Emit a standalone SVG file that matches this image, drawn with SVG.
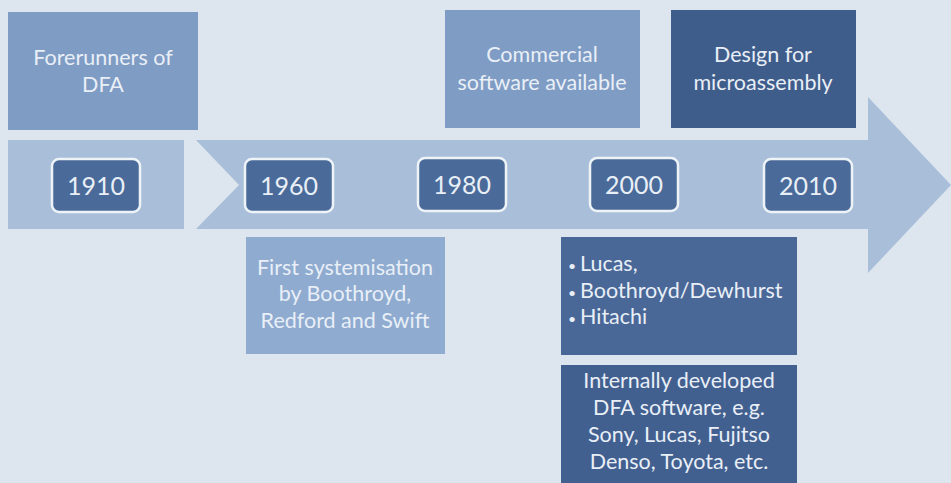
<svg xmlns="http://www.w3.org/2000/svg" width="951" height="483" viewBox="0 0 951 483">
<style>
.t{font-family:Lato,"Open Sans","Liberation Sans",sans-serif;fill:#e9eff7;font-size:21.5px}
.c{text-anchor:middle}
.y{font-size:25px}
.b{font-size:14px}
.yr{fill:#4a6a99;stroke:#eef3f8;stroke-width:2.5}
</style>
<rect width="951" height="483" fill="#dde6ef"/>
<g id="timeline">
<rect x="8" y="140" width="176" height="89" fill="#a9bfd9"/>
<polygon points="196,140 868,140 868,97 951,185 868,273 868,229 196,229 239,185" fill="#a9bfd9"/>
</g>
<g id="forerunners">
<rect x="8" y="12" width="190" height="118" fill="#7f9cc4"/>
<text class="t c" x="103" y="65">Forerunners of</text>
<text class="t c" x="103" y="92">DFA</text>
</g>
<g id="commercial">
<rect x="445" y="10" width="195" height="118" fill="#7f9cc4"/>
<text class="t c" x="542" y="62">Commercial</text>
<text class="t c" x="542" y="90">software available</text>
</g>
<g id="micro">
<rect x="671" y="10" width="185" height="118" fill="#3f5d8b"/>
<text class="t c" x="763" y="62">Design for</text>
<text class="t c" x="763" y="90">microassembly</text>
</g>
<g id="y1910"><rect class="yr" x="52" y="159" width="88" height="53" rx="7"/><text class="t c y" x="96" y="195">1910</text></g>
<g id="y1960"><rect class="yr" x="245" y="159" width="88" height="53" rx="7"/><text class="t c y" x="289" y="195">1960</text></g>
<g id="y1980"><rect class="yr" x="418" y="158" width="88" height="53" rx="7"/><text class="t c y" x="462" y="194">1980</text></g>
<g id="y2000"><rect class="yr" x="590" y="158" width="88" height="53" rx="7"/><text class="t c y" x="634" y="194">2000</text></g>
<g id="y2010"><rect class="yr" x="764" y="159" width="88" height="53" rx="7"/><text class="t c y" x="808" y="195">2010</text></g>
<g id="first">
<rect x="246" y="237" width="199" height="117" fill="#8fabd0"/>
<text class="t c" x="345" y="275">First systemisation</text>
<text class="t c" x="345" y="301">by Boothroyd,</text>
<text class="t c" x="345" y="328">Redford and Swift</text>
</g>
<g id="lucas">
<rect x="561" y="237" width="236" height="118" fill="#4a6897"/>
<text class="t" x="568" y="271"><tspan class="b">•</tspan><tspan x="580">Lucas,</tspan></text>
<text class="t" x="568" y="298"><tspan class="b">•</tspan><tspan x="580">Boothroyd/Dewhurst</tspan></text>
<text class="t" x="568" y="324"><tspan class="b">•</tspan><tspan x="580">Hitachi</tspan></text>
</g>
<g id="internal">
<rect x="561" y="365" width="236" height="118" fill="#42608f"/>
<text class="t c" x="679" y="388">Internally developed</text>
<text class="t c" x="679" y="415">DFA software, e.g.</text>
<text class="t c" x="679" y="442">Sony, Lucas, Fujitso</text>
<text class="t c" x="679" y="469">Denso, Toyota, etc.</text>
</g>
</svg>
